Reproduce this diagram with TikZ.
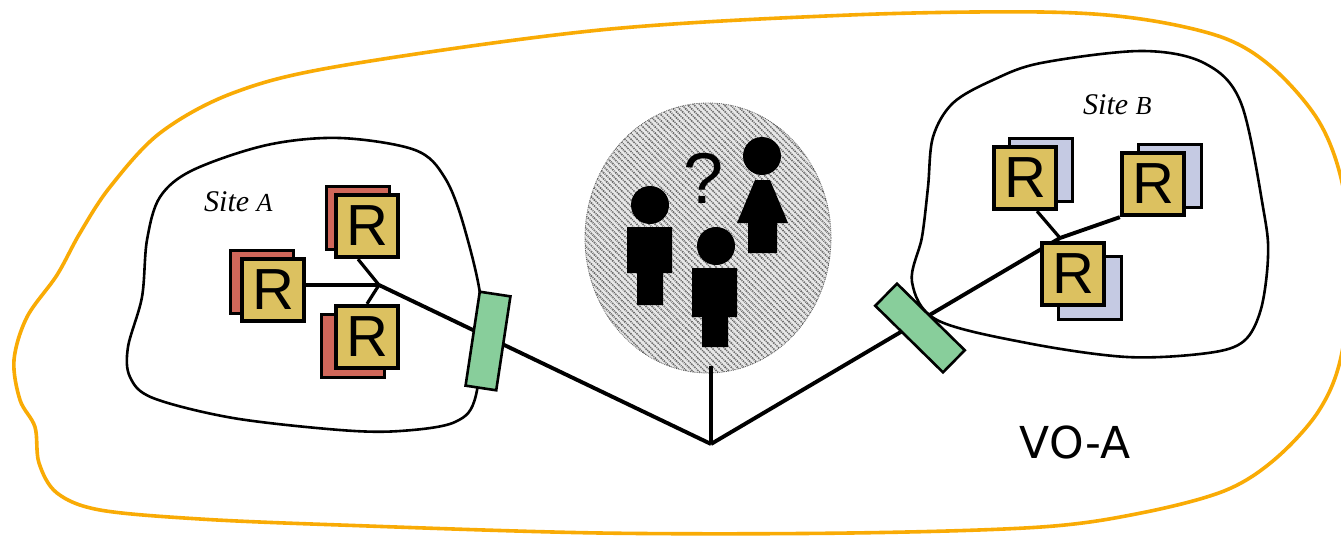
\documentclass[tikz,border=0pt]{standalone}
\usepackage{fontspec}
\setmainfont{Liberation Sans}
\newfontfamily\siteserif{Liberation Serif}
\newfontfamily\vofont{DejaVu Sans}
\usetikzlibrary{patterns.meta,shapes.geometric}
\definecolor{voorange}{HTML}{F9AB05}
\definecolor{rgold}{HTML}{DCC160}
\definecolor{rred}{HTML}{D0675A}
\definecolor{rblue}{HTML}{C5CAE3}
\definecolor{gwgreen}{HTML}{88CE9B}
\begin{document}
\begin{tikzpicture}[
  x=1pt,y=-1pt,
  vo/.style={draw=voorange,line width=3.6pt,smooth cycle,tension=0.55},
  site/.style={draw=black,line width=2.6pt,smooth cycle,tension=0.55},
  rfront/.style={draw,line width=3.8pt,fill=rgold,minimum size=62.5pt,inner sep=0pt,font=\fontsize{58}{58}\selectfont},
  rback/.style={draw,line width=3.4pt,minimum size=62.5pt,inner sep=0pt},
  gateway/.style={draw,line width=2.6pt,fill=gwgreen,minimum width=31pt,minimum height=95pt,inner sep=0pt},
  link/.style={draw,line width=3.2pt},
  trunk/.style={draw,line width=3.9pt},
  sitelabel/.style={font=\siteserif\itshape\fontsize{30}{30}\selectfont,inner sep=0pt},
  crowd/.style={ellipse,draw=gray!70!black,line width=0.8pt,densely dotted,preaction={fill=gray!18},pattern={Lines[angle=-45,distance=4.3pt,line width=1.7pt]},pattern color=gray!80!black,minimum width=246pt,minimum height=270pt,inner sep=0pt},
  person/.style={fill=black,draw=none}
]
\useasboundingbox (0,0) rectangle (1341,536);
\fill[white] (0,0) rectangle (1341,536);
\draw[vo] plot coordinates {(14,360) (27,317) (57,275) (80,233) (110,187) (160,133) (233,93) (340,66) (600,30) (850,15) (1041,12) (1141,19) (1224,38) (1274,69) (1318,120) (1341,178) (1352,260) (1341,357) (1318,412) (1274,460) (1224,491) (1141,513) (1041,527) (850,533) (600,533) (340,525) (200,519) (100,510) (57,493) (39,463) (35,427) (20,400)};
\draw[site] plot coordinates {(128,347) (142,297) (147,240) (160,197) (193,170) (267,145) (340,138) (415,150) (445,178) (465,230) (482,310) (476,395) (455,422) (400,431) (340,430) (233,418) (153,398) (130,377)};
\draw[site] plot coordinates {(912,282) (922,237) (928,187) (933,137) (953,103) (993,80) (1041,63) (1141,51) (1204,63) (1241,103) (1264,213) (1268,257) (1261,309) (1244,341) (1208,353) (1127,357) (1027,343) (937,320)};
\node[crowd] (crowd) at (708,238) {};
\node[sitelabel,anchor=base west] (labelA) at (204,211) {Site {\fontsize{26}{26}\selectfont A}};
\node[sitelabel,anchor=base west] (labelB) at (1083,114) {Site {\fontsize{26}{26}\selectfont B}};
\node[font=\vofont\fontsize{44}{44}\selectfont,inner sep=0pt] (vo) at (1075,442) {VO-A};
\coordinate (root) at (711,444);
\coordinate (hubA) at (379,285);
\coordinate (hubB) at (1060,238);
\node[rback,fill=rred] (a1b) at (358,218) {};
\node[rback,fill=rred] (a2b) at (262,282) {};
\node[rback,fill=rred] (a3b) at (353,346) {};
\node[rback,fill=rblue] (b1b) at (1041,170) {};
\node[rback,fill=rblue] (b2b) at (1170,176) {};
\node[rback,fill=rblue] (b3b) at (1090,288) {};
\node[rfront] (a1) at (367,226) {R};
\node[rfront] (a2) at (273,290) {R};
\node[rfront] (a3) at (367,337) {R};
\node[rfront] (b1) at (1025,178) {R};
\node[rfront] (b2) at (1153,184) {R};
\draw[link] ([xshift=-9pt]a1.south) -- (hubA);
\draw[link] (a2.east |- hubA) -- (hubA);
\draw[link] (a3.north) -- (hubA);
\draw[link] ([xshift=12pt]b1.south) -- (hubB);
\draw[trunk] (hubA) -- (root);
\draw[trunk] (root) -- (hubB);
\draw[trunk] (hubB) -- (b2.south west);
\coordinate (crowdfoot) at (711,366);
\draw[link] (crowdfoot) -- (root);
\node[rfront] (b3) at (1073,274) {R};
\node[gateway,rotate=-8.6] (gwA) at (488,341) {};
\node[gateway,rotate=45.5] (gwB) at (920,328) {};
\fill[person] (650,205) circle (19);
\fill[person] (627,227) rectangle (672,273) (637,273) rectangle (663,305);
\fill[person] (716,246) circle (19);
\fill[person] (692,268) rectangle (737,317) (702,317) rectangle (728,347);
\fill[person] (762,156) circle (19);
\fill[person] (755,180) -- (770,180) -- (788,223) -- (737,223) -- cycle (748,223) rectangle (777,253);
\node[font=\fontsize{72}{72}\selectfont,inner sep=0pt] (query) at (704,178) {?};
\end{tikzpicture}
\end{document}
